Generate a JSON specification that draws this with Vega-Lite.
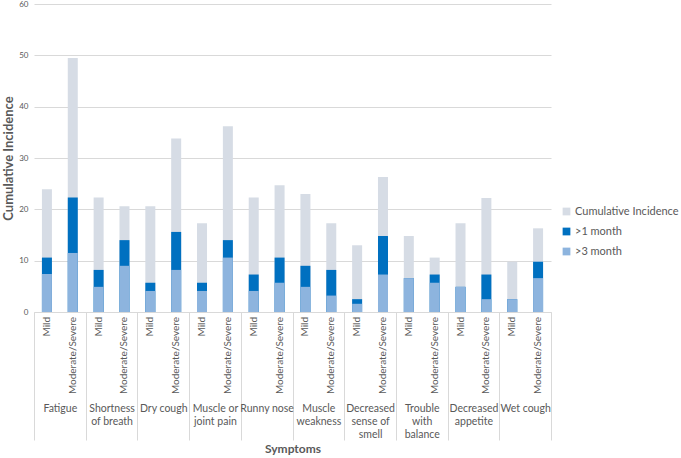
{
  "$schema": "https://vega.github.io/schema/vega-lite/v6.json",
  "width": 517,
  "height": 308,
  "padding": {"left": 2, "top": 0, "right": 0, "bottom": 0},
  "background": "white",
  "config": {
    "font": "Lato",
    "view": {"stroke": null},
    "axis": {"labelColor": "#595959", "titleColor": "#595959", "labelFont": "Lato", "titleFont": "Lato"},
    "legend": {"labelFont": "Lato"}
  },
  "data": {
    "values": [
      {"symptom": "Fatigue", "severity": "Mild", "series": "Cumulative Incidence", "value": 23.9},
      {"symptom": "Fatigue", "severity": "Mild", "series": ">1 month", "value": 10.6},
      {"symptom": "Fatigue", "severity": "Mild", "series": ">3 month", "value": 7.4},
      {"symptom": "Fatigue", "severity": "Moderate/Severe", "series": "Cumulative Incidence", "value": 49.5},
      {"symptom": "Fatigue", "severity": "Moderate/Severe", "series": ">1 month", "value": 22.3},
      {"symptom": "Fatigue", "severity": "Moderate/Severe", "series": ">3 month", "value": 11.5},
      {"symptom": "Shortness of breath", "severity": "Mild", "series": "Cumulative Incidence", "value": 22.3},
      {"symptom": "Shortness of breath", "severity": "Mild", "series": ">1 month", "value": 8.2},
      {"symptom": "Shortness of breath", "severity": "Mild", "series": ">3 month", "value": 4.9},
      {"symptom": "Shortness of breath", "severity": "Moderate/Severe", "series": "Cumulative Incidence", "value": 20.6},
      {"symptom": "Shortness of breath", "severity": "Moderate/Severe", "series": ">1 month", "value": 14.0},
      {"symptom": "Shortness of breath", "severity": "Moderate/Severe", "series": ">3 month", "value": 9.0},
      {"symptom": "Dry cough", "severity": "Mild", "series": "Cumulative Incidence", "value": 20.6},
      {"symptom": "Dry cough", "severity": "Mild", "series": ">1 month", "value": 5.7},
      {"symptom": "Dry cough", "severity": "Mild", "series": ">3 month", "value": 4.1},
      {"symptom": "Dry cough", "severity": "Moderate/Severe", "series": "Cumulative Incidence", "value": 33.8},
      {"symptom": "Dry cough", "severity": "Moderate/Severe", "series": ">1 month", "value": 15.6},
      {"symptom": "Dry cough", "severity": "Moderate/Severe", "series": ">3 month", "value": 8.2},
      {"symptom": "Muscle or joint pain", "severity": "Mild", "series": "Cumulative Incidence", "value": 17.3},
      {"symptom": "Muscle or joint pain", "severity": "Mild", "series": ">1 month", "value": 5.7},
      {"symptom": "Muscle or joint pain", "severity": "Mild", "series": ">3 month", "value": 4.1},
      {"symptom": "Muscle or joint pain", "severity": "Moderate/Severe", "series": "Cumulative Incidence", "value": 36.2},
      {"symptom": "Muscle or joint pain", "severity": "Moderate/Severe", "series": ">1 month", "value": 14.0},
      {"symptom": "Muscle or joint pain", "severity": "Moderate/Severe", "series": ">3 month", "value": 10.6},
      {"symptom": "Runny nose", "severity": "Mild", "series": "Cumulative Incidence", "value": 22.3},
      {"symptom": "Runny nose", "severity": "Mild", "series": ">1 month", "value": 7.3},
      {"symptom": "Runny nose", "severity": "Mild", "series": ">3 month", "value": 4.1},
      {"symptom": "Runny nose", "severity": "Moderate/Severe", "series": "Cumulative Incidence", "value": 24.7},
      {"symptom": "Runny nose", "severity": "Moderate/Severe", "series": ">1 month", "value": 10.6},
      {"symptom": "Runny nose", "severity": "Moderate/Severe", "series": ">3 month", "value": 5.7},
      {"symptom": "Muscle weakness", "severity": "Mild", "series": "Cumulative Incidence", "value": 23.0},
      {"symptom": "Muscle weakness", "severity": "Mild", "series": ">1 month", "value": 9.0},
      {"symptom": "Muscle weakness", "severity": "Mild", "series": ">3 month", "value": 4.9},
      {"symptom": "Muscle weakness", "severity": "Moderate/Severe", "series": "Cumulative Incidence", "value": 17.3},
      {"symptom": "Muscle weakness", "severity": "Moderate/Severe", "series": ">1 month", "value": 8.2},
      {"symptom": "Muscle weakness", "severity": "Moderate/Severe", "series": ">3 month", "value": 3.2},
      {"symptom": "Decreased sense of smell", "severity": "Mild", "series": "Cumulative Incidence", "value": 13.0},
      {"symptom": "Decreased sense of smell", "severity": "Mild", "series": ">1 month", "value": 2.5},
      {"symptom": "Decreased sense of smell", "severity": "Mild", "series": ">3 month", "value": 1.6},
      {"symptom": "Decreased sense of smell", "severity": "Moderate/Severe", "series": "Cumulative Incidence", "value": 26.3},
      {"symptom": "Decreased sense of smell", "severity": "Moderate/Severe", "series": ">1 month", "value": 14.8},
      {"symptom": "Decreased sense of smell", "severity": "Moderate/Severe", "series": ">3 month", "value": 7.3},
      {"symptom": "Trouble with balance", "severity": "Mild", "series": "Cumulative Incidence", "value": 14.8},
      {"symptom": "Trouble with balance", "severity": "Mild", "series": ">1 month", "value": 6.6},
      {"symptom": "Trouble with balance", "severity": "Mild", "series": ">3 month", "value": 6.6},
      {"symptom": "Trouble with balance", "severity": "Moderate/Severe", "series": "Cumulative Incidence", "value": 10.6},
      {"symptom": "Trouble with balance", "severity": "Moderate/Severe", "series": ">1 month", "value": 7.3},
      {"symptom": "Trouble with balance", "severity": "Moderate/Severe", "series": ">3 month", "value": 5.7},
      {"symptom": "Decreased appetite", "severity": "Mild", "series": "Cumulative Incidence", "value": 17.3},
      {"symptom": "Decreased appetite", "severity": "Mild", "series": ">1 month", "value": 4.9},
      {"symptom": "Decreased appetite", "severity": "Mild", "series": ">3 month", "value": 4.9},
      {"symptom": "Decreased appetite", "severity": "Moderate/Severe", "series": "Cumulative Incidence", "value": 22.2},
      {"symptom": "Decreased appetite", "severity": "Moderate/Severe", "series": ">1 month", "value": 7.3},
      {"symptom": "Decreased appetite", "severity": "Moderate/Severe", "series": ">3 month", "value": 2.5},
      {"symptom": "Wet cough", "severity": "Mild", "series": "Cumulative Incidence", "value": 9.8},
      {"symptom": "Wet cough", "severity": "Mild", "series": ">1 month", "value": 2.5},
      {"symptom": "Wet cough", "severity": "Mild", "series": ">3 month", "value": 2.5},
      {"symptom": "Wet cough", "severity": "Moderate/Severe", "series": "Cumulative Incidence", "value": 16.3},
      {"symptom": "Wet cough", "severity": "Moderate/Severe", "series": ">1 month", "value": 9.8},
      {"symptom": "Wet cough", "severity": "Moderate/Severe", "series": ">3 month", "value": 6.6}
    ]
  },
  "encoding": {
    "x": {
      "field": "symptom",
      "type": "nominal",
      "sort": null,
      "scale": {"paddingInner": 0, "paddingOuter": 0},
      "axis": {
        "title": "Symptoms",
        "titleFontSize": 12,
        "titleFontWeight": "bold",
        "titlePadding": 3,
        "labelAngle": 0,
        "labelFontSize": 10.5,
        "labelPadding": -37,
        "labelLineHeight": 13,
        "labelBaseline": "top",
        "tickBand": "extent",
        "tickSize": 128,
        "tickColor": "#D9D9D9",
        "domainColor": "#D9D9D9",
        "labelExpr": "datum.value == 'Shortness of breath' ? ['Shortness', 'of breath'] : datum.value == 'Muscle or joint pain' ? ['Muscle or', 'joint pain'] : datum.value == 'Muscle weakness' ? ['Muscle', 'weakness'] : datum.value == 'Decreased sense of smell' ? ['Decreased', 'sense of', 'smell'] : datum.value == 'Trouble with balance' ? ['Trouble', 'with', 'balance'] : datum.value == 'Decreased appetite' ? ['Decreased', 'appetite'] : datum.value"
      }
    },
    "xOffset": {"field": "severity", "type": "nominal", "scale": {"paddingInner": 0, "paddingOuter": 0}}
  },
  "layer": [
    {
      "mark": {"type": "bar", "size": 10},
      "encoding": {
        "y": {
          "field": "value",
          "type": "quantitative",
          "stack": null,
          "scale": {"domain": [0, 60]},
          "axis": {
            "title": "Cumulative Incidence",
            "titleFontSize": 13,
            "titleFontWeight": "bold",
            "titlePadding": 3,
            "values": [0, 10, 20, 30, 40, 50, 60],
            "labelFontSize": 8,
            "labelPadding": 6,
            "domain": false,
            "ticks": false,
            "gridColor": "#D9D9D9"
          }
        },
        "color": {
          "field": "series",
          "type": "nominal",
          "scale": {
            "domain": ["Cumulative Incidence", ">1 month", ">3 month"],
            "range": ["#D6DCE5", "#0070C0", "#8DB4DE"]
          },
          "legend": {
            "title": null,
            "orient": "none",
            "legendX": 527,
            "legendY": 202,
            "symbolType": "square",
            "symbolSize": 60,
            "labelFontSize": 11,
            "labelColor": "#595959",
            "rowPadding": 8,
            "labelOffset": 3
          }
        },
        "order": {"field": "value", "type": "quantitative", "sort": "descending"}
      }
    },
    {
      "transform": [{"filter": "datum.series == 'Cumulative Incidence'"}],
      "mark": {"type": "text", "angle": 270, "align": "right", "baseline": "middle", "dx": -5, "fontSize": 10, "color": "#595959"},
      "encoding": {
        "y": {"datum": 0, "type": "quantitative"},
        "text": {"field": "severity"}
      }
    }
  ]
}
